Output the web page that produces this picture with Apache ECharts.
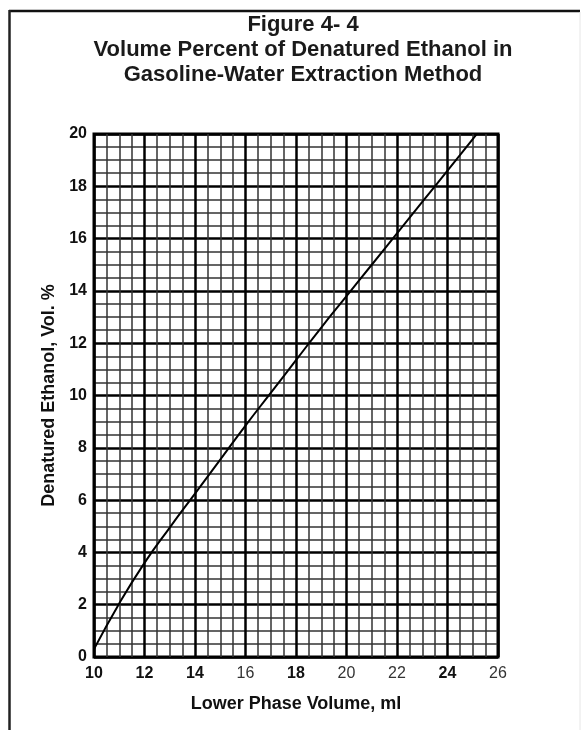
<!DOCTYPE html>
<html>
<head>
<meta charset="utf-8">
<script src="https://cdn.jsdelivr.net/npm/echarts@6/dist/echarts.min.js"></script>
<style>
  html, body { margin: 0; padding: 0; background: #fff; }
  #chart { width: 586px; height: 730px; }
</style>
</head>
<body>
<div id="chart"></div>
<script>
// curve
const lowerPhase = [10, 11, 12, 13, 14, 15, 16, 17, 18, 19, 20, 21, 22, 23, 24, 25, 25.16]
const ethanolPct = [0.3, 2.05, 3.6, 4.95, 6.25, 7.55, 8.85, 10.1, 11.35, 12.6, 13.8, 15.0, 16.2, 17.4, 18.6, 19.8, 20]

// x tick labels that print heavier in the scan
const xBoldTicks = [10, 12, 14, 18, 24]

const titleLines = [
  'Figure 4- 4',
  'Volume Percent of Denatured Ethanol in',
  'Gasoline-Water Extraction Method'
]

const chart = echarts.init(document.getElementById('chart'))

const font = 'Liberation Sans, Arial, sans-serif'

chart.setOption({
  animation: false,
  backgroundColor: '#fff',
  title: {
    text: titleLines.join('\n'),
    left: 298,
    top: 7,
    textAlign: 'center',
    textStyle: {
      fontFamily: font,
      fontSize: 22,
      fontWeight: 'bold',
      lineHeight: 25,
      color: '#1a1a1a'
    }
  },
  graphic: [
    {
      type: 'line',
      shape: { x1: 9, y1: 11, x2: 580, y2: 11 },
      style: { stroke: '#111', lineWidth: 2.5 }
    },
    {
      type: 'line',
      shape: { x1: 9.5, y1: 10, x2: 9.5, y2: 730 },
      style: { stroke: '#222', lineWidth: 2.5 }
    },
    {
      type: 'line',
      shape: { x1: 580, y1: 12, x2: 580, y2: 730 },
      style: { stroke: '#e6e6e6', lineWidth: 1 }
    }
  ],
  grid: {
    left: 94,
    top: 134,
    width: 404,
    height: 523,
    show: true,
    borderColor: '#000',
    borderWidth: 3
  },
  xAxis: {
    type: 'value',
    min: 10,
    max: 26,
    interval: 2,
    name: 'Lower Phase Volume, ml',
    nameLocation: 'middle',
    nameGap: 38,
    nameTextStyle: {
      fontFamily: font,
      fontSize: 18,
      fontWeight: 'bold',
      color: '#111'
    },
    axisLine: { show: false },
    axisTick: { show: false },
    axisLabel: {
      margin: 9,
      fontFamily: font,
      fontSize: 16,
      color: '#111',
      formatter: function (v) {
        return xBoldTicks.indexOf(v) >= 0 ? '{b|' + v + '}' : '{n|' + v + '}'
      },
      rich: {
        b: { fontFamily: font, fontSize: 16, fontWeight: 'bold', color: '#111' },
        n: { fontFamily: font, fontSize: 16, fontWeight: 'normal', color: '#333' }
      }
    },
    splitLine: { show: true, lineStyle: { color: '#000', width: 2.5 } },
    minorTick: { show: false, splitNumber: 4 },
    minorSplitLine: { show: true, lineStyle: { color: '#333', width: 1.5 } }
  },
  yAxis: {
    type: 'value',
    min: 0,
    max: 20,
    interval: 2,
    name: 'Denatured Ethanol, Vol. %',
    nameLocation: 'middle',
    nameGap: 36,
    nameTextStyle: {
      fontFamily: font,
      fontSize: 18,
      fontWeight: 'bold',
      color: '#111'
    },
    axisLine: { show: false },
    axisTick: { show: false },
    axisLabel: {
      margin: 7,
      fontFamily: font,
      fontSize: 16,
      fontWeight: 'bold',
      color: '#111'
    },
    splitLine: { show: true, lineStyle: { color: '#000', width: 2.5 } },
    minorTick: { show: false, splitNumber: 4 },
    minorSplitLine: { show: true, lineStyle: { color: '#333', width: 1.5 } }
  },
  series: [
    {
      type: 'line',
      data: lowerPhase.map((x, i) => [x, ethanolPct[i]]),
      smooth: true,
      symbol: 'none',
      lineStyle: { color: '#000', width: 2 },
      z: 5
    }
  ]
})
</script>
</body>
</html>
